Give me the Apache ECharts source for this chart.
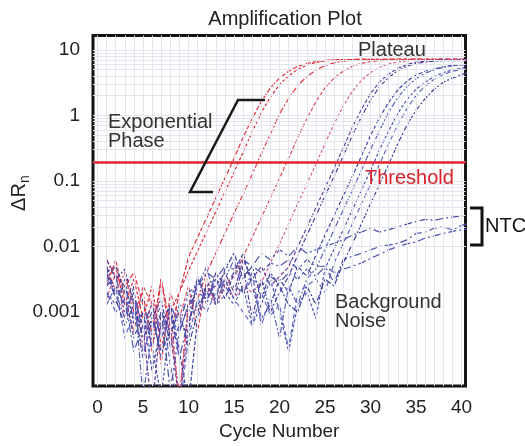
<!DOCTYPE html>
<html><head><meta charset="utf-8">
<script src="https://cdn.jsdelivr.net/npm/echarts@6/dist/echarts.min.js"></script>
<style>html,body{margin:0;padding:0;background:#fff}#c{width:525px;height:446px}</style>
</head><body><div id="c"></div>
<script>
// ---- data ----
const cycles = [1,2,3,4,5,6,7,8,9,10,11,12,13,14,15,16,17,18,19,20,21,22,23,24,25,26,27,28,29,30,31,32,33,34,35,36,37,38,39,40,41];
const threshold = 0.19;
const xTickValues = [0,5,10,15,20,25,30,35,40];
const yTickValues = [0.001,0.01,0.1,1,10];
const yTickLabels = ['0.001','0.01','0.1','1','10'];

const red1 = [0.0063,0.0035,0.0025,0.004,0.0013,0.0005,0.0032,0.0004,0.002,0.0069,0.0138,0.0275,0.055,0.11,0.22,0.46,0.89,1.62,2.63,3.7,4.7,5.6,6.2,6.6,6.9,7.0,7.1,7.1,7.2,7.2,7.2,7.2,7.3,7.3,7.3,7.3,7.3,7.3,7.3,7.3,7.3];
const red2 = [0.0032,0.005,0.0013,0.0032,0.0008,0.0025,0.0003,0.001,0.002,0.0043,0.0085,0.017,0.034,0.068,0.135,0.275,0.56,1.1,1.9,2.95,4.0,5.0,5.8,6.4,6.8,7.0,7.0,7.1,7.1,7.1,7.1,7.1,7.1,7.1,7.1,7.1,7.1,7.1,7.1,7.1,7.1];
const red3 = [0.005,0.002,0.004,0.001,0.002,0.00025,0.0032,0.00063,0.00005,0.0013,0.0016,0.004,0.0079,0.016,0.032,0.063,0.126,0.26,0.52,1.05,1.8,2.85,3.9,4.9,5.75,6.3,6.7,6.9,7.0,7.0,7.1,7.1,7.1,7.1,7.1,7.1,7.1,7.1,7.1,7.1,7.1];
const red4 = [0.0025,0.0063,0.0016,0.0005,0.0025,0.0013,0.00016,0.002,0.0008,0.0025,0.0005,0.0032,0.0013,0.0025,0.0035,0.0069,0.0138,0.0275,0.055,0.11,0.22,0.46,0.89,1.62,2.63,3.7,4.7,5.6,6.2,6.6,6.8,7.0,7.0,7.1,7.1,7.1,7.1,7.1,7.1,7.1,7.1];
const pink1 = [0.0016,0.004,0.0008,0.002,0.0003,0.0016,0.0005,0.0013,0.00004,0.0016,0.001,0.0025,0.0013,0.0032,0.0016,0.0025,0.002,0.0028,0.0056,0.011,0.022,0.045,0.089,0.18,0.37,0.74,1.38,2.34,3.4,4.5,5.4,6.1,6.5,6.8,7.0,7.0,7.0,7.0,7.0,7.0,7.0];
const blue1 = [0.0035,0.0025,0.0013,0.0016,0.00063,0.00003,0.001,0.0005,0.00004,0.00063,0.0032,0.002,0.0025,0.004,0.002,0.0063,0.0032,0.005,0.0025,0.0035,0.0049,0.0098,0.0195,0.039,0.078,0.155,0.32,0.65,1.23,2.14,3.24,4.27,5.25,5.96,6.46,6.76,6.9,7.0,7.0,7.0,7.0];
const blue2 = [0.0063,0.0032,0.0045,0.0013,0.0002,0.0008,0.0016,0.0003,0.00063,0.0005,0.0035,0.0013,0.004,0.0025,0.0016,0.005,0.0008,0.0032,0.001,0.002,0.0035,0.0074,0.0148,0.0295,0.059,0.117,0.24,0.49,0.95,1.7,2.75,3.8,4.8,5.6,6.2,6.5,6.7,6.8,6.8,6.8,6.8];
const blue3 = [0.004,0.005,0.002,0.0004,0.001,0.000126,0.00063,0.0013,0.00025,0.00004,0.0008,0.0025,0.0032,0.0016,0.004,0.0079,0.0025,0.0008,0.0013,0.0032,0.002,0.005,0.0035,0.0074,0.0148,0.0295,0.059,0.117,0.24,0.49,0.93,1.58,2.45,3.3,4.1,4.7,5.1,5.5,5.75,5.9,6.0];
const blue4 = [0.0032,0.002,0.0008,0.0025,0.00005,0.0005,0.001,0.0004,0.0013,0.001,0.0025,0.005,0.0013,0.0032,0.0063,0.002,0.004,0.00063,0.0016,0.0004,0.0025,0.0013,0.0032,0.0046,0.0091,0.018,0.036,0.072,0.145,0.3,0.59,1.12,1.86,2.75,3.6,4.4,4.9,5.4,5.7,5.9,6.0];
const blue5 = [0.002,0.0013,0.0032,0.00063,0.001,0.0003,0.00005,0.0008,0.0005,0.0013,0.0032,0.0016,0.0032,0.002,0.0013,0.0025,0.00063,0.0013,0.0032,0.001,0.00025,0.0013,0.002,0.0008,0.0046,0.0091,0.018,0.036,0.072,0.145,0.3,0.58,1.07,1.74,2.5,3.2,3.9,4.5,4.9,5.25,5.5];
const blue6 = [0.0013,0.0025,0.0004,0.001,0.00025,0.00063,0.0013,0.00016,0.00003,0.0004,0.0016,0.001,0.002,0.0032,0.0016,0.001,0.00063,0.002,0.00089,0.0013,0.00028,0.002,0.0025,0.0032,0.002,0.0056,0.011,0.022,0.045,0.089,0.18,0.37,0.72,1.26,2.0,2.8,3.55,4.2,4.7,5.0,5.25];
const blue7 = [0.005,0.0016,0.00063,0.0013,0.0004,0.0008,0.00025,0.0005,0.001,0.0003,0.001,0.0025,0.0016,0.0045,0.0079,0.0032,0.005,0.0016,0.004,0.0025,0.0013,0.001,0.0025,0.0013,0.0032,0.0025,0.0056,0.011,0.022,0.045,0.089,0.18,0.37,0.71,1.2,1.8,2.5,3.2,3.7,4.2,4.6];
const ntc1 = [0.0025,0.0035,0.001,0.002,0.0005,0.001,0.0002,0.0013,0.00063,0.002,0.0025,0.004,0.0032,0.005,0.0045,0.0063,0.005,0.0079,0.0063,0.0089,0.0071,0.01,0.0079,0.0089,0.01,0.0112,0.0126,0.015,0.0166,0.019,0.0166,0.018,0.02,0.022,0.024,0.026,0.025,0.027,0.028,0.0295,0.03];
const ntc2 = [0.004,0.0016,0.0025,0.0008,0.0016,0.0003,0.001,0.000063,0.0005,0.0013,0.002,0.0016,0.0028,0.0025,0.004,0.0035,0.005,0.004,0.0056,0.005,0.0063,0.0045,0.0063,0.005,0.005,0.0028,0.0063,0.0071,0.0079,0.0089,0.01,0.0105,0.0112,0.0126,0.0158,0.0166,0.019,0.02,0.0178,0.021,0.023];
const ntc3 = [0.002,0.001,0.0016,0.00025,0.00063,0.0013,0.0004,0.001,0.0002,0.0008,0.0013,0.002,0.0013,0.0018,0.0025,0.002,0.0032,0.0025,0.0035,0.0028,0.004,0.0032,0.0045,0.0035,0.005,0.004,0.0045,0.005,0.0056,0.0066,0.0076,0.0089,0.01,0.011,0.0117,0.0135,0.0145,0.0158,0.017,0.018,0.019];

// ---- styling ----
const FONT = 'Liberation Sans, Arial, Helvetica, sans-serif';
const curves = [
  {d: red1, c: '#e4323f', t: [5,2]},
  {d: red2, c: '#e0283a', t: [3,2]},
  {d: red3, c: '#e33a48', t: [6,2,2,2]},
  {d: red4, c: '#e04a5a', t: [4,2]},
  {d: pink1, c: '#d65a8c', t: [3,2]},
  {d: blue1, c: '#6a3d9e', t: [4,2]},
  {d: blue2, c: '#4b3f9f', t: [5,2,2,2]},
  {d: blue3, c: '#3e44a4', t: [4,2]},
  {d: blue4, c: '#5a62bb', t: [6,2,2,2]},
  {d: blue5, c: '#4c54b0', t: [3,2]},
  {d: blue6, c: '#646cc2', t: [5,3]},
  {d: blue7, c: '#3c4198', t: [6,2,2,2]},
  {d: ntc1, c: '#4a52ae', t: [8,3,2,3]},
  {d: ntc2, c: '#4a52ae', t: [8,3,2,3]},
  {d: ntc3, c: '#4a52ae', t: [8,3,2,3]}
];

// grid lines (every cycle, log minor lines)
const gridX = [];
for (let i = 0; i <= 40; i++) gridX.push(i);
const gridY = [];
for (let e = -5; e <= 1; e++) for (let m = 1; m <= 9; m++) {
  const v = m * Math.pow(10, e);
  if (v > 7.5e-5 && v < 16.5) gridY.push(v);
}

const series = [{
  type: 'line', data: [], silent: true, z: 1,
  markLine: {
    silent: true, symbol: ['none', 'none'], label: {show: false}, animation: false,
    emphasis: {disabled: true},
    lineStyle: {color: '#e4e4ec', width: 1, type: 'solid'},
    data: gridX.map(v => ({xAxis: v})).concat(gridY.map(v => ({yAxis: v})))
  }
}];
curves.forEach((cv, k) => {
  series.push({
    type: 'line', name: 'c' + k, z: 2,
    data: cycles.map((c, i) => [c, cv.d[i]]),
    showSymbol: false, symbol: 'none', silent: true,
    lineStyle: {color: cv.c, width: 1.2, type: cv.t},
    emphasis: {disabled: true}
  });
});
series.push({
  type: 'line', data: [], silent: true, z: 3,
  markLine: {
    silent: true, symbol: ['none', 'none'], label: {show: false}, animation: false,
    emphasis: {disabled: true},
    lineStyle: {color: '#e0262c', width: 2.5, type: 'solid'},
    data: [{yAxis: threshold}]
  }
});

const chart = echarts.init(document.getElementById('c'), null, {renderer: 'canvas'});
chart.setOption({
  animation: false,
  backgroundColor: '#fff',
  title: {
    text: 'Amplification Plot', left: 280, top: 4, textAlign: 'center',
    textStyle: {fontSize: 20, fontWeight: 'normal', color: '#222', fontFamily: FONT}
  },
  grid: {left: 93, right: 59.5, top: 35.5, bottom: 60, show: true,
         borderColor: '#151515', borderWidth: 3, backgroundColor: '#fff'},
  xAxis: {
    type: 'value', min: -0.495, max: 40.44,
    axisLine: {show: false}, axisTick: {show: false}, splitLine: {show: false},
    axisLabel: {customValues: xTickValues, fontSize: 19, color: '#222', margin: 12, fontFamily: FONT},
    name: 'Cycle Number', nameLocation: 'middle', nameGap: 36,
    nameTextStyle: {fontSize: 19, color: '#222', fontFamily: FONT}
  },
  yAxis: {
    type: 'log', logBase: 10, min: 7.47e-5, max: 16.5,
    axisLine: {show: false}, axisTick: {show: false}, splitLine: {show: false},
    axisLabel: {
      fontSize: 19, color: '#222', margin: 13, fontFamily: FONT,
      formatter: function (v) {
        const i = yTickValues.findIndex(t => Math.abs(Math.log10(v / t)) < 0.02);
        return i >= 0 ? yTickLabels[i] : '';
      }
    }
  },
  graphic: [
    {type: 'text', x: 19, y: 197, rotation: Math.PI / 2, z: 100,
     style: {text: 'ΔR', fontSize: 20, fontFamily: FONT, fill: '#222', align: 'center', verticalAlign: 'middle'}},
    {type: 'text', x: 25, y: 179, rotation: Math.PI / 2, z: 100,
     style: {text: 'n', fontSize: 14, fontFamily: FONT, fill: '#222', align: 'center', verticalAlign: 'middle'}},
    {type: 'text', x: 358, y: 50, z: 100,
     style: {text: 'Plateau', fontSize: 20, fontFamily: FONT, fill: '#333', align: 'left', verticalAlign: 'middle'}},
    {type: 'text', x: 108, y: 122.5, z: 100,
     style: {text: 'Exponential', fontSize: 20, fontFamily: FONT, fill: '#333', align: 'left', verticalAlign: 'middle'}},
    {type: 'text', x: 108, y: 141, z: 100,
     style: {text: 'Phase', fontSize: 20, fontFamily: FONT, fill: '#333', align: 'left', verticalAlign: 'middle'}},
    {type: 'text', x: 365, y: 178, z: 100,
     style: {text: 'Threshold', fontSize: 20, fontFamily: FONT, fill: '#d8232a', align: 'left', verticalAlign: 'middle'}},
    {type: 'text', x: 335, y: 302.5, z: 100,
     style: {text: 'Background', fontSize: 20, fontFamily: FONT, fill: '#333', align: 'left', verticalAlign: 'middle'}},
    {type: 'text', x: 335, y: 321, z: 100,
     style: {text: 'Noise', fontSize: 20, fontFamily: FONT, fill: '#333', align: 'left', verticalAlign: 'middle'}},
    {type: 'text', x: 485, y: 226, z: 100,
     style: {text: 'NTC', fontSize: 20, fontFamily: FONT, fill: '#111', align: 'left', verticalAlign: 'middle'}},
    {type: 'polyline', z: 100, shape: {points: [[265, 100], [238, 100], [190, 192], [213, 192]]},
     style: {stroke: '#1a1a1a', lineWidth: 2.5, fill: null}},
    {type: 'polyline', z: 100, shape: {points: [[470, 208], [482, 208], [482, 245], [470, 245]]},
     style: {stroke: '#111', lineWidth: 3, fill: null}}
  ],
  series: series
});
</script>
</body></html>
